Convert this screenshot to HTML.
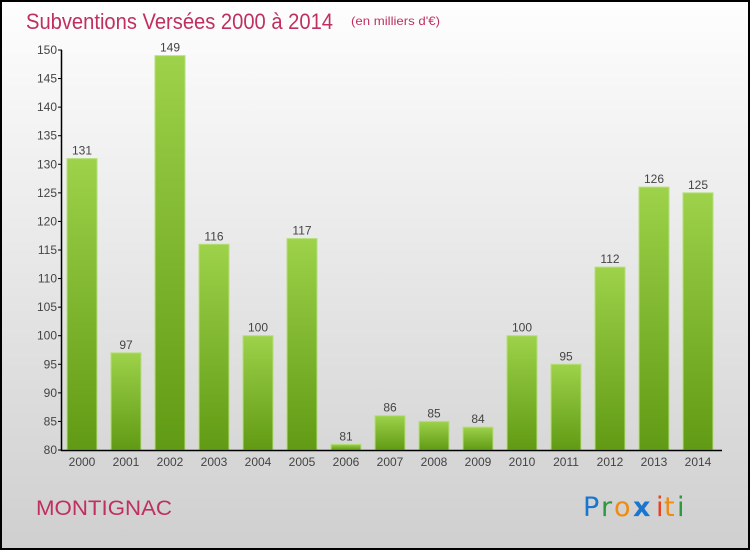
<!DOCTYPE html>
<html><head><meta charset="utf-8"><style>
html,body{margin:0;padding:0;}
body{width:750px;height:550px;overflow:hidden;font-family:"Liberation Sans",sans-serif;}
</style></head><body>
<svg id="chart" width="750" height="550" xmlns="http://www.w3.org/2000/svg">
<defs>
<linearGradient id="bg" x1="0" y1="0" x2="0" y2="1"><stop offset="0" stop-color="#fefefe"/><stop offset="1" stop-color="#cfcfcf"/></linearGradient>
<linearGradient id="bar" x1="0" y1="0" x2="0" y2="1"><stop offset="0" stop-color="#9dd24a"/><stop offset="1" stop-color="#619a14"/></linearGradient>
</defs>
<rect x="1" y="1" width="748" height="548" fill="url(#bg)" stroke="#000" stroke-width="2"/>
<text x="26" y="29" font-size="22" fill="#c0305f" textLength="307" lengthAdjust="spacingAndGlyphs">Subventions Versées 2000 à 2014</text>
<text x="351" y="25" font-size="12" fill="#c0305f" textLength="89" lengthAdjust="spacingAndGlyphs">(en milliers d'€)</text>
<text x="36" y="515" font-size="21" fill="#c0305f" textLength="136" lengthAdjust="spacingAndGlyphs">MONTIGNAC</text>
<g font-size="27" font-family="'DejaVu Sans',sans-serif">
<text x="583" y="516" fill="#1a75cf">P</text><text x="601" y="516" fill="#2a9a3a">r</text><text x="614" y="516" fill="#f08a10">o</text><text x="633" y="516" fill="#1a75cf" font-weight="bold">x</text><text x="656" y="516" fill="#e8401a">i</text><text x="664" y="516" fill="#f08a10">t</text><text x="677" y="516" fill="#2a9a3a">i</text>
</g>
<g id="plot"></g>
</svg>
<script>
const years=["2000","2001","2002","2003","2004","2005","2006","2007","2008","2009","2010","2011","2012","2013","2014"];
const values=[131,97,149,116,100,117,81,86,85,84,100,95,112,126,125];
const yTicks=[80,85,90,95,100,105,110,115,120,125,130,135,140,145,150];
const NS="http://www.w3.org/2000/svg";
const g=document.getElementById('plot');
const y=v=>450-(v-80)*400/70;
const xc=i=>82+i*44;
function mk(t,a,txt){const e=document.createElementNS(NS,t);for(const k in a)e.setAttribute(k,a[k]);if(txt!==undefined)e.textContent=txt;g.appendChild(e);return e;}
values.forEach((v,i)=>{
 const r=mk('rect',{x:xc(i)-15,y:y(v),width:30,height:450-y(v),fill:'url(#bar)',stroke:'#b5df7a','stroke-width':1});
 
 
 const t=mk('text',{x:xc(i),y:y(v)-4,'font-size':12,fill:'#444','text-anchor':'middle'},String(v));
 
 
 const xl=mk('text',{x:xc(i),y:466,'font-size':12,fill:'#444','text-anchor':'middle'},years[i]);
 
 
});
yTicks.forEach(v=>{
 const tk=mk('line',{x1:58,x2:62,y1:y(v),y2:y(v),stroke:'#000'});
 
 
 const tl=mk('text',{x:57,y:y(v)+4,'font-size':12,fill:'#444','text-anchor':'end'},String(v));
 
 
});
const ya=mk('line',{x1:61.5,x2:61.5,y1:50,y2:451,stroke:'#000','stroke-width':1.5});


const xa=mk('line',{x1:61,x2:722,y1:450.5,y2:450.5,stroke:'#000','stroke-width':1.5});


</script>
</body></html>
